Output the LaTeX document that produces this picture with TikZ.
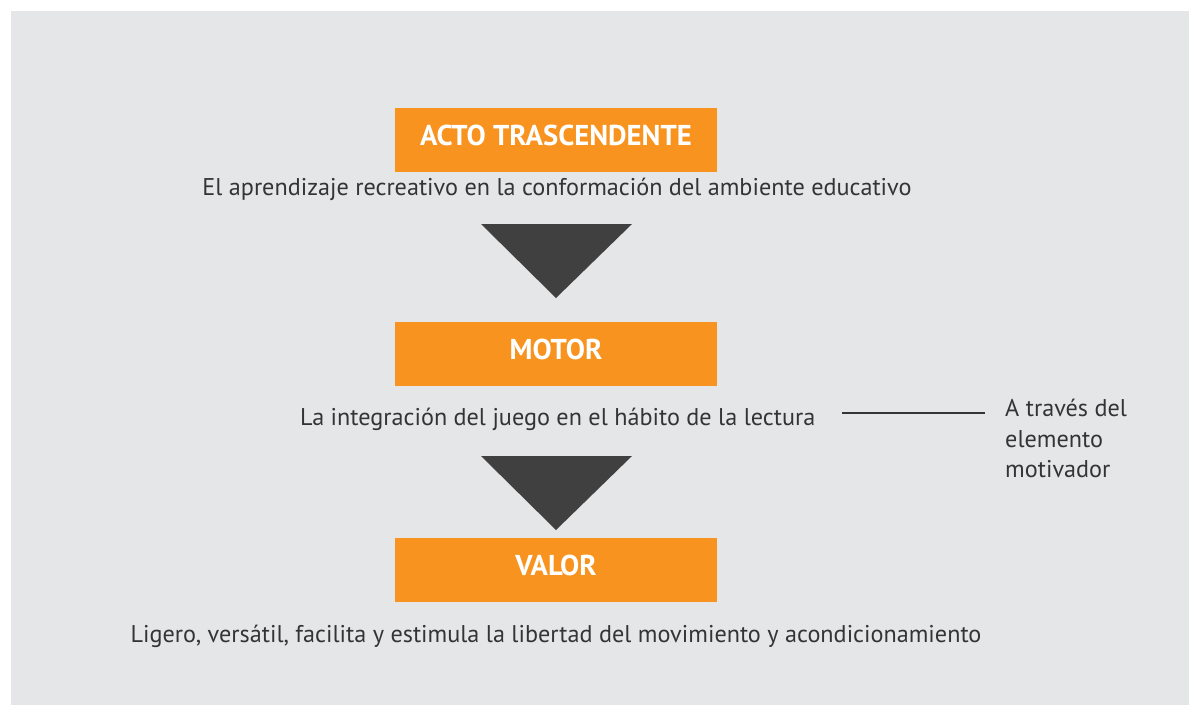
\documentclass[tikz,border=0pt]{standalone}
\usepackage{fontspec}
\setmainfont{PT Sans}
\usetikzlibrary{positioning}
\definecolor{fondogris}{RGB}{229,230,232}
\definecolor{naranja}{RGB}{247,147,30}
\definecolor{flechagris}{RGB}{64,64,64}
\definecolor{textogris}{RGB}{52,52,54}

\begin{document}
\begin{tikzpicture}[x=1pt,y=-1pt,
  caja/.style={fill=naranja,minimum width=322pt,minimum height=64pt,inner sep=0pt,text height=19pt,text depth=8pt,text=white,font=\bfseries\fontsize{28.7}{30}\selectfont},
  texto/.style={text=textogris,inner sep=0pt,font=\fontsize{24.2}{30.5}\selectfont}]
\useasboundingbox (0,0) rectangle (1189,705);
\fill[fondogris] (11,11) rectangle (1189,705);

% cajas naranjas
\node [caja] (acto) at (556,140) {ACTO TRASCENDENTE};
\node [caja] (motor) at (556,354) {MOTOR};
\node [caja] (valor) at (556,570) {VALOR};

% textos bajo cada caja
\node [texto,anchor=base] (ambiente) at (557,195) {El aprendizaje recreativo en la conformación del ambiente educativo};
\node [texto,anchor=base west] (lectura) at (300,425) {La integración del juego en el hábito de la lectura};
\node [texto,anchor=base] (ligero) at (556,642) {Ligero, versátil, facilita y estimula la libertad del movimiento y acondicionamiento};

% nota lateral
\node [texto,align=left,anchor=north west] (motivador) at (1005,399) {A través del\\elemento\\motivador};
\coordinate (linea) at (842,413);
\draw [textogris,line width=2pt] (linea) -- (985,413);

% triangulos
\fill [flechagris] (481,224) -- (632,224) -- (556,298) -- cycle;
\fill [flechagris] (481,456) -- (632,456) -- (556,530) -- cycle;
\end{tikzpicture}
\end{document}
